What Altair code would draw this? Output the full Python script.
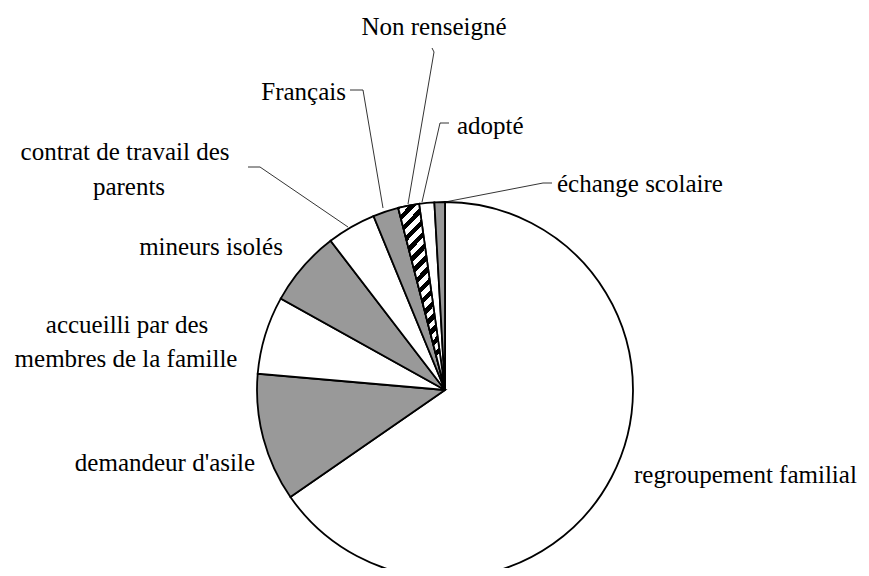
import altair as alt
import pandas as pd

# slice data (percent), clockwise from 12 o'clock
categories = ["regroupement familial", "demandeur d'asile",
              "accueilli par des membres de la famille", "mineurs isolés",
              "contrat de travail des parents", "Français", "Non renseigné",
              "adopté", "échange scolaire"]
values = [65.3, 11.0, 6.7, 6.5, 4.2, 2.2, 1.8, 1.3, 0.9]
fills = ["white", "#999999", "white", "#999999", "white", "#999999", "white", "white", "#999999"]

df = pd.DataFrame({"cat": categories, "value": values, "fill": fills,
                   "idx": list(range(len(categories)))})

# label layout (plot pixel coordinates)
label_text = ["Non renseigné", "Français", "adopté", "échange scolaire",
              "contrat de travail des", "parents", "mineurs isolés",
              "accueilli par des", "membres de la famille",
              "demandeur d'asile", "regroupement familial"]
label_x = [426, 338, 449, 549, 117, 121, 203, 119, 118, 247, 626]
label_y = [19, 84, 118, 176, 144, 179, 239, 317, 351, 455, 467]
label_align = ["center", "right", "left", "left", "center", "center", "center",
               "center", "center", "right", "left"]
labels = pd.DataFrame({"text": label_text, "x": label_x, "y": label_y, "align": label_align})

# leader lines (plot pixel coordinates)
lead_group = ["nr"] * 3 + ["fr"] * 3 + ["ad"] * 3 + ["ec"] * 3 + ["ct"] * 3
lead_seq = [0, 1, 2] * 5
lead_x = [400, 426, 424, 342, 355, 375, 414, 432, 441, 437, 535, 544, 240, 252, 340]
lead_y = [196, 44, 40, 82, 82, 200, 194, 115, 115, 194, 175, 175, 159, 159, 219]
leaders = pd.DataFrame({"g": lead_group, "s": lead_seq, "x": lead_x, "y": lead_y})

CX, CY, R = 437, 382, 188

base = alt.Chart(df)
pie = base.mark_arc(outerRadius=R, stroke="black", strokeWidth=1.8).encode(
    theta=alt.Theta("value:Q", stack=True),
    order=alt.Order("idx:Q"),
    fill=alt.Fill("fill:N", scale=None),
    x=alt.value(CX), y=alt.value(CY),
)

stops = []
n = 15
for i in range(n):
    a = i / n
    b = (i + 0.5) / n
    c = (i + 1) / n
    stops += [{"offset": a, "color": "black"}, {"offset": b, "color": "black"},
              {"offset": b, "color": "white"}, {"offset": c, "color": "white"}]
hatch = {"gradient": "linear", "x1": 0, "y1": 0, "x2": 0.26, "y2": 1, "stops": stops}

hatched = base.mark_arc(outerRadius=R, stroke="black", strokeWidth=1.8, fill=hatch).encode(
    theta=alt.Theta("value:Q", stack=True),
    order=alt.Order("idx:Q"),
    opacity=alt.condition(alt.datum.cat == "Non renseigné", alt.value(1), alt.value(0)),
    x=alt.value(CX), y=alt.value(CY),
)

lines = alt.Chart(leaders).mark_line(color="black", strokeWidth=0.8).encode(
    x=alt.X("x:Q", scale=None), y=alt.Y("y:Q", scale=None),
    detail="g:N", order="s:Q",
)

def text_layer(al):
    return alt.Chart(labels).transform_filter(alt.datum.align == al).mark_text(
        font="Liberation Serif, Times New Roman, serif", fontSize=25, align=al,
        baseline="middle", color="black"
    ).encode(x=alt.X("x:Q", scale=None), y=alt.Y("y:Q", scale=None), text="text:N")

chart = alt.layer(pie, hatched, lines, text_layer("center"), text_layer("left"),
                  text_layer("right")).properties(
    width=853, height=560, padding=0, autosize=alt.AutoSizeParams(type="none")
).configure_view(stroke=None)

chart.save("out.html", embed_options={"renderer": "svg", "actions": False})
